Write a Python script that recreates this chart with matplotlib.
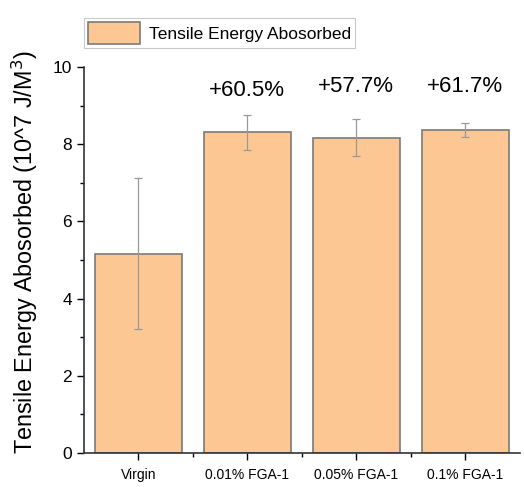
import numpy as np
import matplotlib.pyplot as plt
from matplotlib.ticker import MultipleLocator, FixedLocator

plt.rcParams['font.family'] = ['Liberation Sans', 'DejaVu Sans']

categories = ['Virgin', '0.01% FGA-1', '0.05% FGA-1', '0.1% FGA-1']
energy = [5.17, 8.31, 8.17, 8.37]
errors = [1.95, 0.45, 0.48, 0.18]
gains = ['', '+60.5%', '+57.7%', '+61.7%']


def main():
    fig = plt.figure(figsize=(5.24, 4.87), dpi=100)
    ax = fig.add_axes([0.16, 0.07, 0.832, 0.792])
    x = np.arange(len(categories))
    ax.bar(x, energy, width=0.8, color='#fdc793', edgecolor='#7a7a7a',
           linewidth=1.2, label='Tensile Energy Abosorbed', zorder=2)
    ax.errorbar(x, energy, yerr=errors, fmt='none', ecolor='#999999',
                elinewidth=0.9, capsize=3, capthick=0.9, zorder=3)
    label_y = [0, 9.4, 9.5, 9.5]
    for xi, g, ly in zip(x, gains, label_y):
        if g:
            ax.text(xi, ly, g, ha='center', va='center', fontsize=16)

    ax.set_xlim(-0.5, 3.5)
    ax.set_ylim(0, 10)
    ax.set_xticks(x)
    ax.set_xticklabels(categories, fontsize=10)
    ax.xaxis.set_minor_locator(FixedLocator([0.5, 1.5, 2.5]))
    ax.yaxis.set_major_locator(MultipleLocator(2))
    ax.yaxis.set_minor_locator(MultipleLocator(1))
    ax.tick_params(axis='y', labelsize=12.5, direction='out', length=5, width=1)
    ax.tick_params(axis='x', direction='out', length=5, width=1, pad=6)
    ax.tick_params(which='minor', direction='out', length=3, width=1)
    for s in ['top', 'right']:
        ax.spines[s].set_visible(False)
    for s in ['left', 'bottom']:
        ax.spines[s].set_linewidth(1.2)
        ax.spines[s].set_color('#333333')
    ax.set_ylabel('Tensile Energy Abosorbed (10^7 J/M$^3$)', fontsize=16.8)
    ax.yaxis.set_label_coords(-0.10, 0.52)

    leg = fig.legend(loc='upper left', bbox_to_anchor=(0.16, 0.963),
                     fontsize=12.5, frameon=True, fancybox=False,
                     borderpad=0.25, handlelength=3.0, handleheight=1.5,
                     handletextpad=0.5, borderaxespad=0)
    leg.get_frame().set_edgecolor('#bbbbbb')
    leg.get_frame().set_linewidth(0.8)

    fig.savefig('out.png', dpi=100)


if __name__ == "__main__":
    main()
